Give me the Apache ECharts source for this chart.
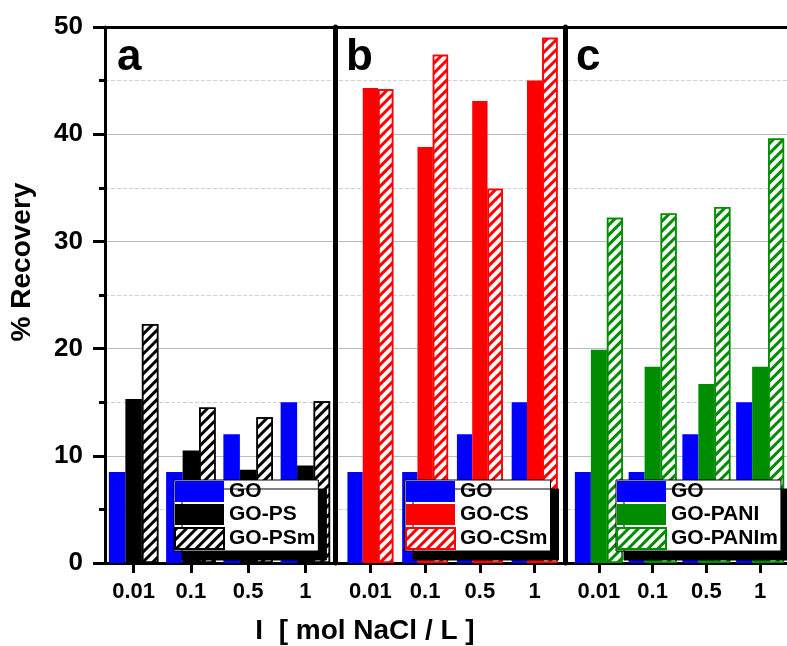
<!DOCTYPE html>
<html>
<head>
<meta charset="utf-8">
<script src="https://cdn.jsdelivr.net/npm/echarts@6/dist/echarts.min.js"></script>
<style>
  html, body { margin: 0; padding: 0; background: #fff; }
  #chart { width: 787px; height: 646px; }
</style>
</head>
<body>
<div id="chart"></div>
<script>
// ionic strength categories
const categories = ['0.01', '0.1', '0.5', '1'];

// % recovery
const goValues = [8.5, 8.5, 12.0, 15.0];
const psValues = [15.3, 10.5, 8.7, 9.1];
const psmValues = [22.3, 14.5, 13.6, 15.1];
const csValues = [44.3, 38.8, 43.1, 45.0];
const csmValues = [44.2, 47.4, 34.9, 49.0];
const paniValues = [19.9, 18.3, 16.7, 18.3];
const panimValues = [32.2, 32.6, 33.2, 39.6];

const panelLetters = ['a', 'b', 'c'];
const legendNames = [
  ['GO', 'GO-PS', 'GO-PSm'],
  ['GO', 'GO-CS', 'GO-CSm'],
  ['GO', 'GO-PANI', 'GO-PANIm']
];

const FONT = '"Liberation Sans", Arial, sans-serif';
const TOP = 27, BOTTOM = 83;

let chart = echarts.init(document.getElementById('chart'));

// hatch pattern for the modified samples
function hatch(color) {
  return {
    symbol: 'rect',
    symbolSize: 1,
    dashArrayX: [[1, 0]],
    dashArrayY: [2.5, 4],
    rotation: -Math.PI / 4,
    color: color
  };
}

function panelX(idx) {
  return {
    type: 'category', gridIndex: idx, data: categories,
    axisLine: { show: false },
    axisTick: { show: true, alignWithLabel: true, length: 10, lineStyle: { color: '#000', width: 3 } },
    axisLabel: { interval: 0, margin: 18, fontSize: 22, fontWeight: 'bold', color: '#000', fontFamily: FONT }
  };
}

function panelY(idx, offset, showLine) {
  return {
    type: 'value', gridIndex: idx, min: 0, max: 50, offset: offset,
    axisLine: { show: showLine, lineStyle: { color: '#000', width: 5 } },
    axisTick: { show: false }, axisLabel: { show: false }, splitLine: { show: false }
  };
}

// panel p (1..3): xAxis index p+1, yAxis index p
function solidBar(name, data, color, p, bw) {
  return {
    type: 'bar', name: name, data: data, xAxisIndex: p + 1, yAxisIndex: p,
    barWidth: bw, barGap: '0%',
    itemStyle: { color: color }
  };
}

function hatchBar(name, data, color, p, bw) {
  return {
    type: 'bar', name: name, data: data, xAxisIndex: p + 1, yAxisIndex: p,
    barWidth: bw, barGap: '0%',
    itemStyle: { color: '#fff', borderColor: color, borderWidth: 1.5, decal: hatch(color) }
  };
}

function legendAt(left, names) {
  return {
    orient: 'vertical', left: left, top: 480, icon: 'rect',
    itemWidth: 49, itemHeight: 21, itemGap: 2, padding: [1, 3, 1, 0],
    backgroundColor: '#fff', borderColor: '#000', borderWidth: 1,
    shadowColor: '#000', shadowOffsetX: 8, shadowOffsetY: 9, shadowBlur: 0,
    textStyle: { fontSize: 21, fontWeight: 'bold', color: '#000', fontFamily: FONT },
    data: names
  };
}

let option = {
  animation: false,
  backgroundColor: '#fff',
  grid: [
    { left: 105, right: -5, top: TOP, bottom: BOTTOM },
    { left: 105, width: 229, top: TOP, bottom: BOTTOM },
    { left: 343, width: 219, top: TOP, bottom: BOTTOM },
    { left: 572, width: 218, top: TOP, bottom: BOTTOM }
  ],
  xAxis: [
    { type: 'value', gridIndex: 0, position: 'bottom', min: 0, max: 1,
      axisLine: { show: true, onZero: false, lineStyle: { color: '#000', width: 3 } },
      axisTick: { show: false }, axisLabel: { show: false }, splitLine: { show: false } },
    { type: 'value', gridIndex: 0, position: 'top', min: 0, max: 1,
      axisLine: { show: true, onZero: false, lineStyle: { color: '#000', width: 3 } },
      axisTick: { show: false }, axisLabel: { show: false }, splitLine: { show: false } },
    panelX(1), panelX(2), panelX(3)
  ],
  yAxis: [
    { type: 'value', gridIndex: 0, min: 0, max: 50, interval: 10,
      axisLine: { show: true, lineStyle: { color: '#000', width: 3 } },
      axisTick: { show: true, length: 12, lineStyle: { color: '#000', width: 3 } },
      minorTick: { show: true, splitNumber: 2, length: 6, lineStyle: { color: '#000', width: 3 } },
      axisLabel: { margin: 22, fontSize: 26, fontWeight: 'bold', color: '#000', fontFamily: FONT },
      splitLine: { show: true, lineStyle: { color: '#bdbdbd', width: 1 } },
      minorSplitLine: { show: true, lineStyle: { color: '#d0d0d0', width: 1, type: 'dashed' } } },
    panelY(1, 0, false),
    panelY(2, 8, true),
    panelY(3, 7, true)
  ],
  legend: [
    legendAt(174, legendNames[0]),
    legendAt(405, legendNames[1]),
    legendAt(616, legendNames[2])
  ],
  graphic: [
    { type: 'text', left: 117, top: 36, style: { text: panelLetters[0], font: 'bold 44px ' + FONT, fill: '#000' } },
    { type: 'text', left: 346, top: 36, style: { text: panelLetters[1], font: 'bold 44px ' + FONT, fill: '#000' } },
    { type: 'text', left: 576, top: 36, style: { text: panelLetters[2], font: 'bold 44px ' + FONT, fill: '#000' } },
    { type: 'text', x: 22, y: 262, rotation: Math.PI / 2,
      style: { text: '% Recovery', font: 'bold 28px ' + FONT, fill: '#000', align: 'center', verticalAlign: 'middle' } },
    { type: 'text', x: 365, y: 631,
      style: { text: 'I  [ mol NaCl / L ]', font: 'bold 28px ' + FONT, fill: '#000', align: 'center', verticalAlign: 'middle' } }
  ],
  series: [
    solidBar('GO', goValues, '#0000ff', 1, 16.5),
    solidBar('GO-PS', psValues, '#000000', 1, 16.5),
    hatchBar('GO-PSm', psmValues, '#000000', 1, 16.5),
    solidBar('GO', goValues, '#0000ff', 2, 15.3),
    solidBar('GO-CS', csValues, '#ff0000', 2, 15.3),
    hatchBar('GO-CSm', csmValues, '#ff0000', 2, 15.3),
    solidBar('GO', goValues, '#0000ff', 3, 16),
    solidBar('GO-PANI', paniValues, '#008c00', 3, 16),
    hatchBar('GO-PANIm', panimValues, '#008c00', 3, 16)
  ]
};

chart.setOption(option);

window.onresize = function () {
  chart.resize();
};
</script>
</body>
</html>
